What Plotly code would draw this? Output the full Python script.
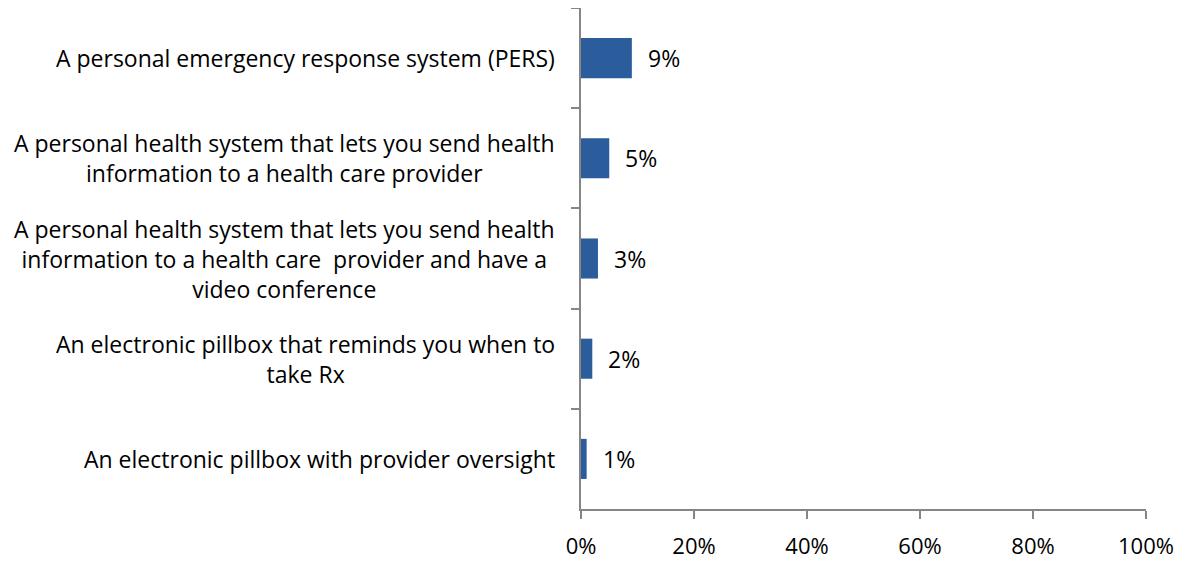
import plotly.graph_objects as go

categories = [
    "A personal emergency response system (PERS)",
    "A personal health system that lets you send health<br>information to a health care provider",
    "A personal health system that lets you send health<br>information to a health care  provider and have a<br>video conference",
    "An electronic pillbox that reminds you when to<br>take Rx",
    "An electronic pillbox with provider oversight",
]
values = [0.09, 0.05, 0.03, 0.02, 0.01]
value_labels = ["9%", "5%", "3%", "2%", "1%"]
x_ticks = [0, 0.2, 0.4, 0.6, 0.8, 1.0]
x_tick_labels = ["0%", "20%", "40%", "60%", "80%", "100%"]

FONT = "Open Sans, sans-serif"
AXIS = "#868686"
FS = 23

fig = go.Figure(go.Bar(
    x=values, y=categories, orientation="h",
    marker=dict(color="#2B5C9C", line=dict(width=0)),
    width=0.4, hoverinfo="skip",
))

annotations = []
for c in categories:
    annotations.append(dict(
        x=0, xref="paper", y=c, yref="y", text=c, showarrow=False,
        xanchor="right", yanchor="middle", align="center", xshift=-24,
        font=dict(family=FONT, size=FS, color="#000000"),
    ))
for c, v, t in zip(categories, values, value_labels):
    annotations.append(dict(
        x=v, xref="x", y=c, yref="y", text=t, showarrow=False,
        xanchor="left", yanchor="middle", xshift=14,
        font=dict(family=FONT, size=FS, color="#000000"),
    ))

fig.update_layout(
    width=1174, height=555,
    margin=dict(l=573, r=36, t=0, b=54, autoexpand=False),
    paper_bgcolor="white", plot_bgcolor="white",
    showlegend=False,
    annotations=annotations,
    font=dict(family=FONT, size=FS, color="#000000"),
    xaxis=dict(
        range=[0, 1], tickvals=x_ticks, ticktext=x_tick_labels,
        showgrid=False, zeroline=False, showline=True, linecolor=AXIS, linewidth=2,
        ticks="outside", ticklen=8, tickcolor=AXIS, tickwidth=2,
        ticklabelstandoff=9, tickfont=dict(family=FONT, size=22, color="#000000"),
    ),
    yaxis=dict(
        categoryorder="array", categoryarray=categories, autorange="reversed",
        showticklabels=False, showgrid=False, zeroline=False,
        showline=True, linecolor=AXIS, linewidth=2,
        ticks="outside", ticklen=8, tickcolor=AXIS, tickwidth=2, tickson="boundaries",
    ),
)

fig.write_html("out.html")
